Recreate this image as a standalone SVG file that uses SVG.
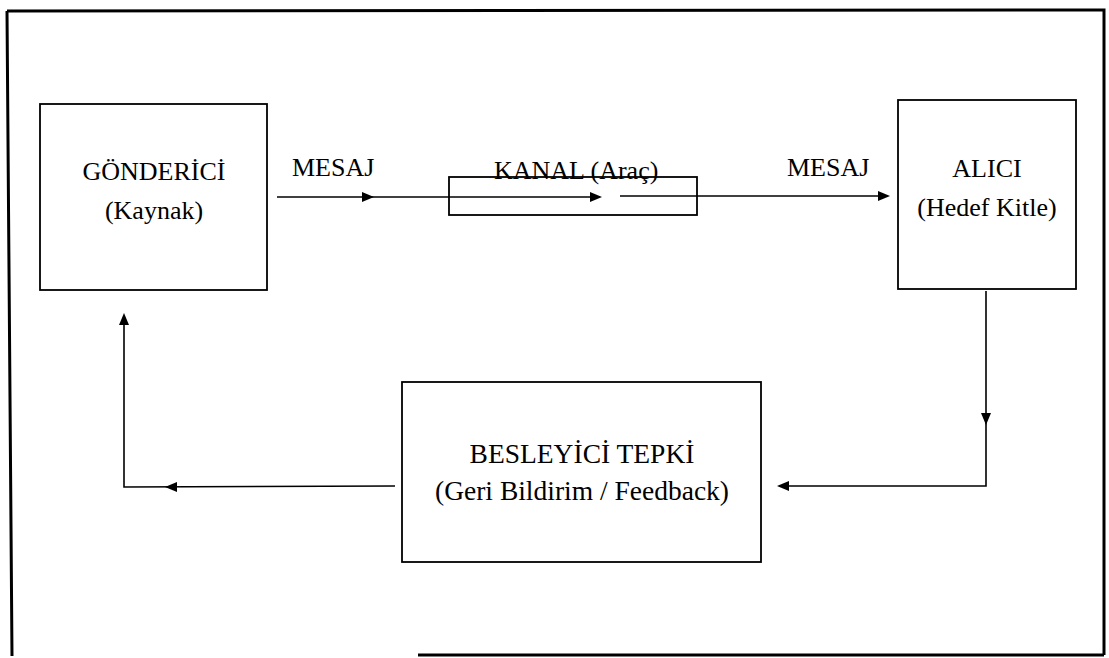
<svg xmlns="http://www.w3.org/2000/svg" width="1109" height="658" viewBox="0 0 1109 658">
<style>
.box{fill:none;stroke:#000;stroke-width:1.8}
.ln{fill:none;stroke:#000;stroke-width:1.6}
.t{font-family:"Liberation Serif","Times New Roman",serif;font-size:26px;fill:#000}
.c{text-anchor:middle}
.big{font-size:27.5px}
.ah{fill:#000}
</style>
<rect width="1109" height="658" fill="#fff"/>
<g id="frame">
<path d="M7,11 L1104,10 L1104,655 M418,655 L1104,655 M7,11 L12,656" fill="none" stroke="#000" stroke-width="3"/>
</g>
<g id="gonderici">
<rect class="box" x="40" y="104" width="227" height="186"/>
<text class="t c" x="154" y="180">GÖNDERİCİ</text>
<text class="t c" x="154" y="219">(Kaynak)</text>
</g>
<g id="kanal">
<rect class="box" x="449" y="177" width="248" height="38"/>
<text class="t" x="494" y="179">KANAL (Araç)</text>
</g>
<g id="alici">
<rect class="box" x="898" y="100" width="178" height="189"/>
<text class="t c" x="987" y="177">ALICI</text>
<text class="t c" x="987" y="216">(Hedef Kitle)</text>
</g>
<g id="besleyici">
<rect class="box" x="402" y="382" width="359" height="180"/>
<text class="t c big" x="582" y="463">BESLEYİCİ TEPKİ</text>
<text class="t c big" x="582" y="500">(Geri Bildirim / Feedback)</text>
</g>
<g id="connectors">
<text class="t" x="292" y="176">MESAJ</text>
<text class="t" x="787" y="176">MESAJ</text>
<line class="ln" x1="277" y1="197" x2="598" y2="197"/>
<polygon class="ah" points="374,197 362,192 362,202"/>
<polygon class="ah" points="602,197 590,192 590,202"/>
<line class="ln" x1="620" y1="196" x2="884" y2="196"/>
<polygon class="ah" points="890,196 878,191 878,201"/>
<polyline class="ln" points="986,291 986,486 784,486"/>
<polygon class="ah" points="986,425 981,413 991,413"/>
<polygon class="ah" points="777,486 789,481 789,491"/>
<polyline class="ln" points="395,486 124,487 124,320"/>
<polygon class="ah" points="165,487 177,482 177,492"/>
<polygon class="ah" points="124,313 119,325 129,325"/>
</g>
</svg>
